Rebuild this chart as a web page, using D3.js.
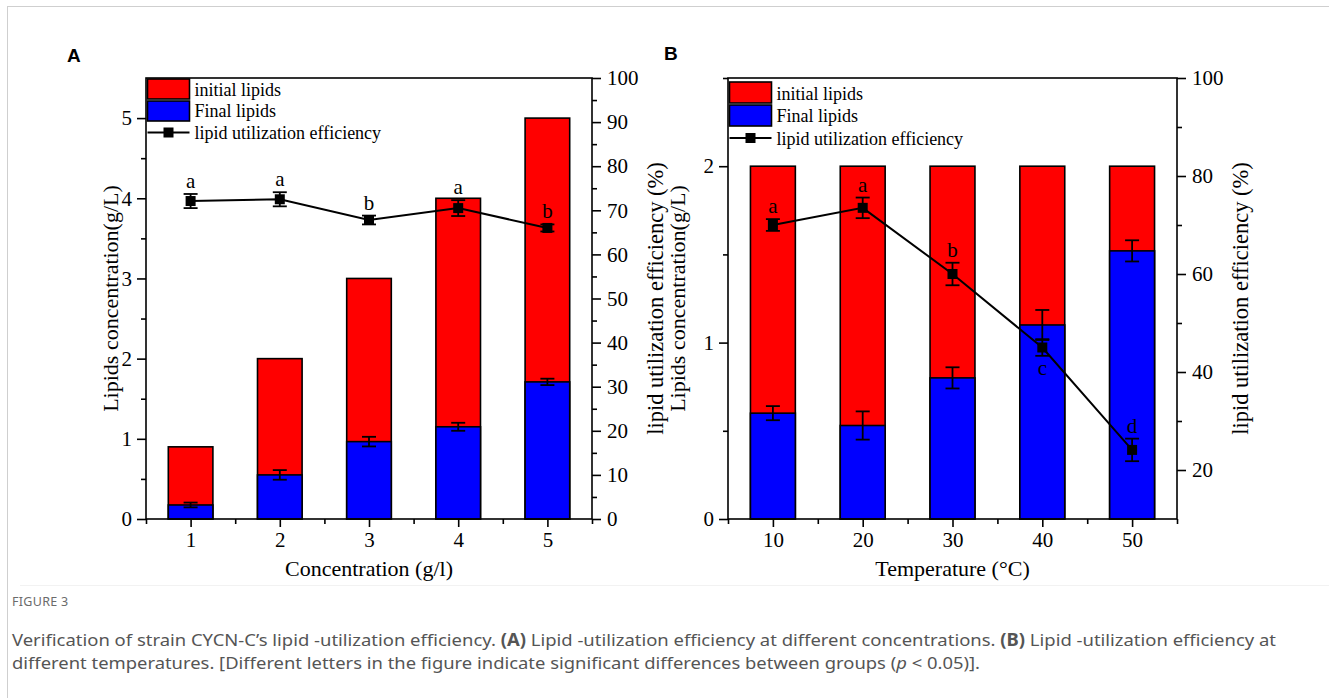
<!DOCTYPE html>
<html>
<head>
<meta charset="utf-8">
<script src="https://cdn.jsdelivr.net/npm/d3@7/dist/d3.min.js"></script>
<style>
    body { margin: 0; background: #fff; }
    svg { display: block; }
</style>
</head>
<body>
<svg id="fig" width="1329" height="698"></svg>
<script>
/****** Data *******/
// Panel A - concentration
const concA = [1, 2, 3, 4, 5];
const initialA = [0.9, 2, 3, 4, 5];
const finalA = [0.175, 0.55, 0.965, 1.15, 1.71];
const finalErrA = [0.03, 0.06, 0.06, 0.05, 0.04];
const effA = [72.1, 72.5, 67.8, 70.5, 66.0];
const effErrA = [1.6, 1.6, 1.0, 1.8, 0.8];
const lettersA = ["a", "a", "b", "a", "b"];
const letterPosA = ["above", "above", "above", "above", "above"];

// Panel B - temperature
const tempB = [10, 20, 30, 40, 50];
const initialB = [2, 2, 2, 2, 2];
const finalB = [0.6, 0.53, 0.8, 1.1, 1.52];
const finalErrB = [0.04, 0.08, 0.06, 0.085, 0.06];
const effB = [70.0, 73.5, 60.0, 45.0, 24.1];
const effErrB = [1.2, 2.1, 2.3, 1.7, 2.3];
const lettersB = ["a", "a", "b", "c", "d"];
const letterPosB = ["above", "above", "above", "below", "above"];

// ticks
const leftTicksA = [0, 1, 2, 3, 4, 5];
const leftMinorA = [0.5, 1.5, 2.5, 3.5, 4.5];
const rightTicksA = [0, 10, 20, 30, 40, 50, 60, 70, 80, 90, 100];
const rightMinorA = [5, 15, 25, 35, 45, 55, 65, 75, 85, 95];
const xMinorA = [0.5, 1.5, 2.5, 3.5, 4.5, 5.5];

const leftTicksB = [0, 1, 2];
const leftMinorB = [0.5, 1.5, 2.5];
const rightTicksB = [20, 40, 60, 80, 100];
const rightMinorB = [30, 50, 70, 90];
const xMinorB = [5, 15, 25, 35, 45, 55];

const legendLabels = ["initial lipids", "Final lipids", "lipid utilization efficiency"];

var serif = "'Liberation Serif', 'Times New Roman', serif";
var svg = d3.select("#fig");

/** page frame **/
svg.append("line").attr("x1", 7).attr("x2", 1329).attr("y1", 6.5).attr("y2", 6.5)
    .attr("stroke", "#cfcfcf").attr("stroke-width", 1);
svg.append("line").attr("x1", 7.5).attr("x2", 7.5).attr("y1", 6).attr("y2", 698)
    .attr("stroke", "#cfcfcf").attr("stroke-width", 1);
svg.append("line").attr("x1", 20).attr("x2", 1329).attr("y1", 585.5).attr("y2", 585.5)
    .attr("stroke", "#f2f2f2").attr("stroke-width", 1);

/** Draw one panel **/
function drawPanel(p) {
    var g = svg.append("g");

    var x = d3.scaleLinear().domain(p.xDomain).range([p.left, p.right]);
    var yL = d3.scaleLinear().domain(p.yLDomain).range([p.bottom, p.top]);
    var yR = d3.scaleLinear().domain(p.yRDomain).range([p.bottom, p.top]);
    var barW = x(p.cats[0] + p.barWidth / 2) - x(p.cats[0] - p.barWidth / 2);

    // bars: red = initial, blue = final
    g.selectAll(".red").data(p.cats).enter().append("rect")
        .attr("x", function (d) { return x(d) - barW / 2; })
        .attr("y", function (d, i) { return yL(p.initial[i]); })
        .attr("width", barW)
        .attr("height", function (d, i) { return p.bottom - yL(p.initial[i]); })
        .attr("fill", "#ff0000").attr("stroke", "#000").attr("stroke-width", 1.6);

    g.selectAll(".blue").data(p.cats).enter().append("rect")
        .attr("x", function (d) { return x(d) - barW / 2; })
        .attr("y", function (d, i) { return yL(p.final[i]); })
        .attr("width", barW)
        .attr("height", function (d, i) { return p.bottom - yL(p.final[i]); })
        .attr("fill", "#0000ff").attr("stroke", "#000").attr("stroke-width", 1.6);

    // error bars helper
    function errBars(vals, errs, scale) {
        var eg = g.append("g").attr("stroke", "#000").attr("stroke-width", 1.8);
        p.cats.forEach(function (c, i) {
            var cx = x(c), y1 = scale(vals[i] - errs[i]), y2 = scale(vals[i] + errs[i]);
            eg.append("line").attr("x1", cx).attr("x2", cx).attr("y1", y1).attr("y2", y2);
            eg.append("line").attr("x1", cx - 7).attr("x2", cx + 7).attr("y1", y1).attr("y2", y1);
            eg.append("line").attr("x1", cx - 7).attr("x2", cx + 7).attr("y1", y2).attr("y2", y2);
        });
    }
    errBars(p.final, p.finalErr, yL);

    // efficiency line
    var line = d3.line()
        .x(function (d, i) { return x(p.cats[i]); })
        .y(function (d) { return yR(d); });
    g.append("path").datum(p.eff)
        .attr("fill", "none").attr("stroke", "#000").attr("stroke-width", 2)
        .attr("d", line);
    errBars(p.eff, p.effErr, yR);
    g.selectAll(".pt").data(p.eff).enter().append("rect")
        .attr("x", function (d, i) { return x(p.cats[i]) - 5; })
        .attr("y", function (d) { return yR(d) - 5; })
        .attr("width", 10).attr("height", 10).attr("fill", "#000");

    // significance letters
    g.selectAll(".let").data(p.letters).enter().append("text")
        .attr("x", function (d, i) { return x(p.cats[i]); })
        .attr("y", function (d, i) {
            if (p.letterPos[i] === "below") return yR(p.eff[i] - p.effErr[i]) + 19;
            return yR(p.eff[i] + p.effErr[i]) - 6;
        })
        .attr("text-anchor", "middle")
        .style("font-family", serif).style("font-size", "21px")
        .text(function (d) { return d; });

    // frame
    g.append("rect").attr("x", p.left).attr("y", p.top)
        .attr("width", p.right - p.left).attr("height", p.bottom - p.top)
        .attr("fill", "none").attr("stroke", "#000").attr("stroke-width", 1.6);

    // axes
    var fmt = d3.format("d");
    function styleAxis(sel) {
        sel.attr("font-family", serif).attr("font-size", 21);
        sel.select(".domain").remove();
        sel.selectAll("line").attr("stroke", "#000").attr("stroke-width", 1.6);
        sel.selectAll("text").style("font-family", serif).style("font-size", "21px").attr("fill", "#000");
    }
    g.append("g").attr("transform", "translate(" + p.left + ",0)")
        .call(d3.axisLeft(yL).tickValues(p.leftTicks).tickFormat(fmt).tickSize(9).tickPadding(5)).call(styleAxis);
    g.append("g").attr("transform", "translate(" + p.left + ",0)")
        .call(d3.axisLeft(yL).tickValues(p.leftMinor).tickSize(5).tickFormat("")).call(styleAxis);
    g.append("g").attr("transform", "translate(" + p.right + ",0)")
        .call(d3.axisRight(yR).tickValues(p.rightTicks).tickFormat(fmt).tickSize(9).tickPadding(6)).call(styleAxis);
    g.append("g").attr("transform", "translate(" + p.right + ",0)")
        .call(d3.axisRight(yR).tickValues(p.rightMinor).tickSize(5).tickFormat("")).call(styleAxis);
    g.append("g").attr("transform", "translate(0," + p.bottom + ")")
        .call(d3.axisBottom(x).tickValues(p.cats).tickFormat(fmt).tickSize(8).tickPadding(5)).call(styleAxis);
    g.append("g").attr("transform", "translate(0," + p.bottom + ")")
        .call(d3.axisBottom(x).tickValues(p.xMinor).tickSize(5).tickFormat("")).call(styleAxis);

    // axis titles
    var midY = (p.top + p.bottom) / 2;
    g.append("text")
        .attr("transform", "translate(" + p.leftTitleX + "," + midY + ") rotate(-90)")
        .attr("text-anchor", "middle").attr("dy", "0.35em")
        .style("font-family", serif).style("font-size", "22px")
        .text("Lipids concentration(g/L)");
    g.append("text")
        .attr("transform", "translate(" + p.rightTitleX + "," + midY + ") rotate(-90)")
        .attr("text-anchor", "middle").attr("dy", "0.35em")
        .style("font-family", serif).style("font-size", "22.5px")
        .text("lipid utilization efficiency (%)");
    g.append("text")
        .attr("x", (p.left + p.right) / 2).attr("y", p.bottom + 57)
        .attr("text-anchor", "middle")
        .style("font-family", serif).style("font-size", "22px")
        .text(p.xTitle);

    // panel letter
    g.append("text").attr("x", p.labelX).attr("y", p.labelY)
        .style("font-family", "'Liberation Sans', Arial, sans-serif")
        .style("font-weight", "bold").style("font-size", "19px")
        .text(p.label);

    // legend
    var lx = p.left + 1.5, ly = p.top + p.legendOff, rowH = p.legendRow;
    var lg = g.append("g");
    lg.append("rect").attr("x", lx).attr("y", ly).attr("width", 42).attr("height", rowH - 1)
        .attr("fill", "#ff0000").attr("stroke", "#000").attr("stroke-width", 1.6);
    lg.append("rect").attr("x", lx).attr("y", ly + rowH + 1).attr("width", 42).attr("height", rowH - 1)
        .attr("fill", "#0000ff").attr("stroke", "#000").attr("stroke-width", 1.6);
    var ry = ly + rowH * 2.5 + 1;
    lg.append("line").attr("x1", lx).attr("x2", lx + 42).attr("y1", ry).attr("y2", ry)
        .attr("stroke", "#000").attr("stroke-width", 2);
    lg.append("rect").attr("x", lx + 16).attr("y", ry - 5).attr("width", 10).attr("height", 10).attr("fill", "#000");
    lg.selectAll("text").data(legendLabels).enter().append("text")
        .attr("x", lx + 47)
        .attr("y", function (d, i) { return ly + rowH * (i + 0.5) + (i === 2 ? 1 : 0) + 1; })
        .attr("dy", "0.32em")
        .style("font-family", serif).style("font-size", "18px")
        .text(function (d) { return d; });
}

drawPanel({
    label: "A", labelX: 67, labelY: 62,
    left: 146, right: 592, top: 78, bottom: 519,
    xDomain: [0.5, 5.5], yLDomain: [0, 5.5], yRDomain: [0, 100],
    cats: concA, barWidth: 0.5,
    initial: initialA, final: finalA, finalErr: finalErrA,
    eff: effA, effErr: effErrA, letters: lettersA, letterPos: letterPosA,
    leftTicks: leftTicksA, leftMinor: leftMinorA,
    rightTicks: rightTicksA, rightMinor: rightMinorA, xMinor: xMinorA,
    leftTitleX: 110, rightTitleX: 655, xTitle: "Concentration (g/l)",
    legendOff: 1, legendRow: 21
});

drawPanel({
    label: "B", labelX: 664, labelY: 60,
    left: 728, right: 1177, top: 78, bottom: 519,
    xDomain: [5, 55], yLDomain: [0, 2.5], yRDomain: [10, 100],
    cats: tempB, barWidth: 5,
    initial: initialB, final: finalB, finalErr: finalErrB,
    eff: effB, effErr: effErrB, letters: lettersB, letterPos: letterPosB,
    leftTicks: leftTicksB, leftMinor: leftMinorB,
    rightTicks: rightTicksB, rightMinor: rightMinorB, xMinor: xMinorB,
    leftTitleX: 677, rightTitleX: 1240, xTitle: "Temperature (\u00B0C)",
    legendOff: 4, legendRow: 22
});

/** Caption **/
var cap = svg.append("g").style("font-family", "'Noto Sans', 'Open Sans', sans-serif");
cap.append("text").attr("x", 12).attr("y", 606)
    .style("font-size", "12.5px").attr("fill", "#6b6b6b").style("letter-spacing", "0.3px")
    .text("FIGURE 3");
var l1 = cap.append("text").attr("x", 12).attr("y", 646)
    .attr("textLength", 1264).attr("lengthAdjust", "spacingAndGlyphs")
    .style("font-size", "17px").attr("fill", "#555");
l1.append("tspan").text("Verification of strain CYCN-C\u2019s lipid -utilization efficiency. ");
l1.append("tspan").style("font-weight", "bold").text("(A)");
l1.append("tspan").text(" Lipid -utilization efficiency at different concentrations. ");
l1.append("tspan").style("font-weight", "bold").text("(B)");
l1.append("tspan").text(" Lipid -utilization efficiency at");
var l2 = cap.append("text").attr("x", 12).attr("y", 669)
    .attr("textLength", 968).attr("lengthAdjust", "spacingAndGlyphs")
    .style("font-size", "17px").attr("fill", "#555");
l2.append("tspan").text("different temperatures. [Different letters in the figure indicate significant differences between groups (");
l2.append("tspan").style("font-style", "italic").text("p");
l2.append("tspan").text(" < 0.05)].");
</script>
</body>
</html>
